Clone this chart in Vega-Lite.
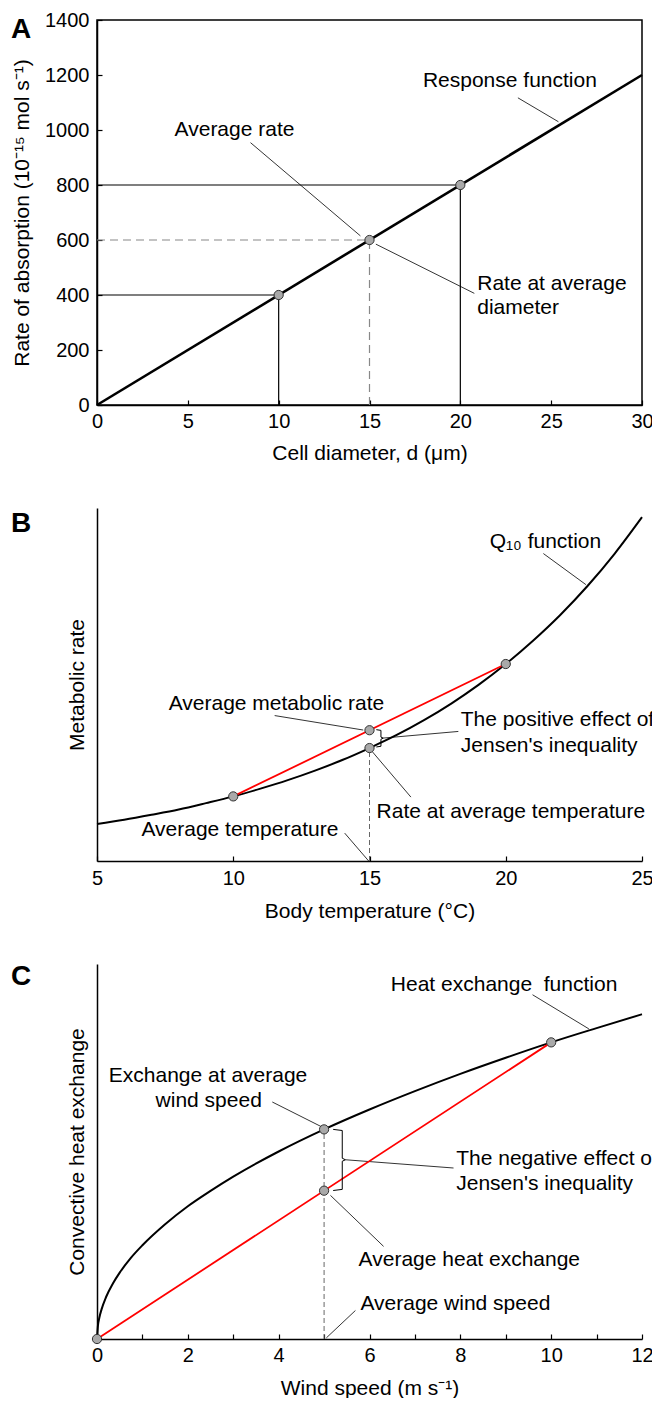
{
  "$schema": "https://vega.github.io/schema/vega-lite/v6.json",
  "background": "white",
  "padding": {"left": 10, "top": 9, "right": 0, "bottom": 0},
  "bounds": "flush",
  "spacing": 103,
  "config": {
    "font": "Liberation Sans",
    "axis": {
      "domainColor": "black", "domainWidth": 1.5,
      "tickColor": "black", "tickWidth": 1.2, "tickSize": -5,
      "labelFont": "Liberation Sans", "labelFontSize": 20, "labelColor": "black",
      "labelFlush": false, "labelOverlap": false,
      "titleFont": "Liberation Sans", "titleFontSize": 21, "titleFontWeight": "normal", "titleColor": "black",
      "grid": false
    },
    "text": {"font": "Liberation Sans", "fontSize": 21, "color": "black"}
  },
  "vconcat": [
    {
      "width": 545, "height": 385,
      "view": {"stroke": "black", "strokeWidth": 1.5},
      "title": {"text": "A", "anchor": "start", "frame": "group", "offset": 0, "dx": -86, "dy": 56, "baseline": "alphabetic", "fontSize": 28, "fontWeight": "bold", "font": "Liberation Sans", "color": "black"},
      "encoding": {
        "x": {"field": "x", "type": "quantitative", "scale": {"domain": [0, 30], "nice": false},
              "axis": {"title": "Cell diameter, d (μm)", "values": [0, 5, 10, 15, 20, 25, 30], "labelPadding": 11, "titlePadding": 11}},
        "y": {"field": "y", "type": "quantitative", "scale": {"domain": [0, 1400], "nice": false},
              "axis": {"title": "Rate of absorption (10⁻¹⁵ mol s⁻¹)", "values": [0, 200, 400, 600, 800, 1000, 1200, 1400], "format": "d", "labelPadding": 13, "titlePadding": 12}}
      },
      "layer": [
        {
          "data": {"values": [
            {"x": 0, "y": 400, "x2": 10, "y2": 400},
            {"x": 10, "y": 0, "x2": 10, "y2": 400},
            {"x": 0, "y": 800, "x2": 20, "y2": 800},
            {"x": 20, "y": 0, "x2": 20, "y2": 800}
          ]},
          "mark": {"type": "rule", "color": "black", "strokeWidth": 1.2},
          "encoding": {"x2": {"field": "x2"}, "y2": {"field": "y2"}}
        },
        {
          "data": {"values": [
            {"x": 0, "y": 600, "x2": 15, "y2": 600},
            {"x": 15, "y": 0, "x2": 15, "y2": 600}
          ]},
          "mark": {"type": "rule", "color": "#888888", "strokeWidth": 1.2, "strokeDash": [8, 5]},
          "encoding": {"x2": {"field": "x2"}, "y2": {"field": "y2"}}
        },
        {
          "data": {"values": [
            {"x": 23.17, "y": 1117, "x2": 25.4, "y2": 1030},
            {"x": 8.45, "y": 954, "x2": 14.5, "y2": 615},
            {"x": 20.77, "y": 406, "x2": 15.35, "y2": 585}
          ]},
          "mark": {"type": "rule", "color": "black", "strokeWidth": 0.8},
          "encoding": {"x2": {"field": "x2"}, "y2": {"field": "y2"}}
        },
        {
          "data": {"values": [{"x": 0, "y": 0}, {"x": 30, "y": 1200}]},
          "mark": {"type": "line", "color": "black", "strokeWidth": 2.6}
        },
        {
          "data": {"values": [{"x": 10, "y": 400}, {"x": 15, "y": 600}, {"x": 20, "y": 800}]},
          "mark": {"type": "circle", "size": 85, "fill": "#a9a9a9", "stroke": "#333333", "strokeWidth": 1, "opacity": 1}
        },
        {
          "data": {"values": [
            {"x": 17.94, "y": 1155, "t": "Response function"},
            {"x": 4.27, "y": 978, "t": "Average rate"},
            {"x": 20.93, "y": 418, "t": "Rate at average"},
            {"x": 20.93, "y": 331, "t": "diameter"}
          ]},
          "mark": {"type": "text", "align": "left", "baseline": "alphabetic"},
          "encoding": {"text": {"field": "t"}}
        }
      ]
    },
    {
      "width": 545, "height": 353,
      "view": {"stroke": null},
      "title": {"text": "B", "anchor": "start", "frame": "group", "offset": 0, "dx": -86, "dy": 52, "baseline": "alphabetic", "fontSize": 28, "fontWeight": "bold", "font": "Liberation Sans", "color": "black"},
      "encoding": {
        "x": {"field": "x", "type": "quantitative", "scale": {"domain": [5, 25], "nice": false, "zero": false},
              "axis": {"title": "Body temperature (°C)", "values": [5, 10, 15, 20, 25], "labelPadding": 12, "titlePadding": 12}},
        "y": {"field": "y", "type": "quantitative", "scale": {"domain": [0, 100], "nice": false},
              "axis": {"title": "Metabolic rate", "ticks": false, "labels": false, "titlePadding": 10}}
      },
      "layer": [
        {
          "data": {"values": [{"x": 15, "y": 0, "x2": 15, "y2": 32.0}]},
          "mark": {"type": "rule", "color": "#666666", "strokeWidth": 1, "strokeDash": [5, 3]},
          "encoding": {"x2": {"field": "x2"}, "y2": {"field": "y2"}}
        },
        {
          "data": {"values": [
            {"x": 21.38, "y": 87.1, "x2": 22.94, "y2": 78.3},
            {"x": 11.52, "y": 41.2, "x2": 14.77, "y2": 37.1},
            {"x": 15.47, "y": 34.8, "x2": 18.26, "y2": 36.7},
            {"x": 16.52, "y": 18.1, "x2": 15.1, "y2": 31.0},
            {"x": 14.09, "y": 7.9, "x2": 14.97, "y2": 0}
          ]},
          "mark": {"type": "rule", "color": "black", "strokeWidth": 0.8},
          "encoding": {"x2": {"field": "x2"}, "y2": {"field": "y2"}}
        },
        {
          "data": {"values": [
            {"x": 5, "y": 10.5}, {"x": 6, "y": 11.7}, {"x": 7, "y": 13.1}, {"x": 8, "y": 14.6},
            {"x": 9, "y": 16.4}, {"x": 10, "y": 18.3}, {"x": 11, "y": 20.5}, {"x": 12, "y": 22.9},
            {"x": 13, "y": 25.6}, {"x": 14, "y": 28.6}, {"x": 15, "y": 32.0}, {"x": 16, "y": 35.7},
            {"x": 17, "y": 39.9}, {"x": 18, "y": 44.6}, {"x": 19, "y": 49.9}, {"x": 20, "y": 55.8},
            {"x": 21, "y": 62.4}, {"x": 22, "y": 69.7}, {"x": 23, "y": 77.9}, {"x": 24, "y": 87.1},
            {"x": 25, "y": 97.4}
          ]},
          "mark": {"type": "line", "color": "black", "strokeWidth": 2, "interpolate": "monotone"}
        },
        {
          "data": {"values": [{"x": 10, "y": 18.3}, {"x": 20, "y": 55.8}]},
          "mark": {"type": "line", "color": "#ff0000", "strokeWidth": 1.8}
        },
        {
          "data": {"values": [
            {"o": 1, "x": 15.25, "y": 37.2}, {"o": 2, "x": 15.42, "y": 37.0}, {"o": 3, "x": 15.42, "y": 35.1},
            {"o": 4, "x": 15.5, "y": 34.8}, {"o": 5, "x": 15.42, "y": 34.5}, {"o": 6, "x": 15.42, "y": 32.5},
            {"o": 7, "x": 15.25, "y": 32.3}
          ]},
          "mark": {"type": "line", "color": "black", "strokeWidth": 1},
          "encoding": {"order": {"field": "o", "type": "quantitative"}}
        },
        {
          "data": {"values": [{"x": 10, "y": 18.3}, {"x": 15, "y": 32.0}, {"x": 15, "y": 37.05}, {"x": 20, "y": 55.8}]},
          "mark": {"type": "circle", "size": 85, "fill": "#a9a9a9", "stroke": "#333333", "strokeWidth": 1, "opacity": 1}
        },
        {
          "data": {"values": [
            {"x": 19.41, "y": 88.8, "t": "Q₁₀ function"},
            {"x": 7.63, "y": 42.9, "t": "Average metabolic rate"},
            {"x": 18.35, "y": 38.2, "t": "The positive effect of"},
            {"x": 18.35, "y": 30.9, "t": "Jensen's inequality"},
            {"x": 15.26, "y": 12.3, "t": "Rate at average temperature"},
            {"x": 6.63, "y": 7.1, "t": "Average temperature"}
          ]},
          "mark": {"type": "text", "align": "left", "baseline": "alphabetic"},
          "encoding": {"text": {"field": "t"}}
        }
      ]
    },
    {
      "width": 545, "height": 375,
      "view": {"stroke": null},
      "title": {"text": "C", "anchor": "start", "frame": "group", "offset": 0, "dx": -86, "dy": 49, "baseline": "alphabetic", "fontSize": 28, "fontWeight": "bold", "font": "Liberation Sans", "color": "black"},
      "encoding": {
        "x": {"field": "x", "type": "quantitative", "scale": {"domain": [0, 12], "nice": false},
              "axis": {"title": "Wind speed (m s⁻¹)", "values": [0, 1, 2, 3, 4, 5, 6, 7, 8, 9, 10, 11, 12],
                       "labelExpr": "datum.value % 2 === 0 ? datum.label : ''", "labelPadding": 11, "titlePadding": 12}},
        "y": {"field": "y", "type": "quantitative", "scale": {"domain": [0, 100], "nice": false},
              "axis": {"title": "Convective heat exchange", "ticks": false, "labels": false, "titlePadding": 10}}
      },
      "layer": [
        {
          "data": {"values": [{"x": 5, "y": 0, "x2": 5, "y2": 55.9}]},
          "mark": {"type": "rule", "color": "#666666", "strokeWidth": 1, "strokeDash": [5, 3]},
          "encoding": {"x2": {"field": "x2"}, "y2": {"field": "y2"}}
        },
        {
          "data": {"values": [
            {"x": 9.59, "y": 91.8, "x2": 10.83, "y2": 82.7},
            {"x": 3.86, "y": 63.2, "x2": 4.96, "y2": 56.5},
            {"x": 5.47, "y": 47.8, "x2": 7.85, "y2": 45.6},
            {"x": 6.31, "y": 24.7, "x2": 5.14, "y2": 38.3},
            {"x": 5.69, "y": 7.6, "x2": 5.05, "y2": 0.3}
          ]},
          "mark": {"type": "rule", "color": "black", "strokeWidth": 0.8},
          "encoding": {"x2": {"field": "x2"}, "y2": {"field": "y2"}}
        },
        {
          "data": {"values": [
            {"x": 0, "y": 0}, {"x": 0.02, "y": 3.5}, {"x": 0.05, "y": 5.6}, {"x": 0.1, "y": 7.9},
            {"x": 0.2, "y": 11.2}, {"x": 0.35, "y": 14.8}, {"x": 0.5, "y": 17.7}, {"x": 0.75, "y": 21.7},
            {"x": 1, "y": 25.0}, {"x": 1.5, "y": 30.6}, {"x": 2, "y": 35.4}, {"x": 2.5, "y": 39.5},
            {"x": 3, "y": 43.3}, {"x": 4, "y": 50.0}, {"x": 5, "y": 55.9}, {"x": 6, "y": 61.2},
            {"x": 7, "y": 66.1}, {"x": 8, "y": 70.7}, {"x": 9, "y": 75.0}, {"x": 10, "y": 79.1},
            {"x": 11, "y": 82.9}, {"x": 12, "y": 86.6}
          ]},
          "mark": {"type": "line", "color": "black", "strokeWidth": 2, "interpolate": "monotone"}
        },
        {
          "data": {"values": [{"x": 0, "y": 0}, {"x": 10, "y": 79.1}]},
          "mark": {"type": "line", "color": "#ff0000", "strokeWidth": 1.8}
        },
        {
          "data": {"values": [
            {"o": 1, "x": 5.2, "y": 55.9}, {"o": 2, "x": 5.4, "y": 55.6}, {"o": 3, "x": 5.4, "y": 48.2},
            {"o": 4, "x": 5.47, "y": 47.8}, {"o": 5, "x": 5.4, "y": 47.4}, {"o": 6, "x": 5.4, "y": 39.9},
            {"o": 7, "x": 5.2, "y": 39.6}
          ]},
          "mark": {"type": "line", "color": "black", "strokeWidth": 1},
          "encoding": {"order": {"field": "o", "type": "quantitative"}}
        },
        {
          "data": {"values": [{"x": 0, "y": 0}, {"x": 5, "y": 55.9}, {"x": 5, "y": 39.55}, {"x": 10, "y": 79.1}]},
          "mark": {"type": "circle", "size": 85, "fill": "#a9a9a9", "stroke": "#333333", "strokeWidth": 1, "opacity": 1, "clip": false}
        },
        {
          "data": {"values": [
            {"x": 6.47, "y": 92.9, "t": "Heat exchange \u00a0function"},
            {"x": 0.26, "y": 68.5, "t": "Exchange at average"},
            {"x": 1.29, "y": 61.8, "t": "wind speed"},
            {"x": 7.91, "y": 46.3, "t": "The negative effect of"},
            {"x": 7.91, "y": 39.7, "t": "Jensen's inequality"},
            {"x": 5.76, "y": 19.6, "t": "Average heat exchange"},
            {"x": 5.8, "y": 7.8, "t": "Average wind speed"}
          ]},
          "mark": {"type": "text", "align": "left", "baseline": "alphabetic"},
          "encoding": {"text": {"field": "t"}}
        }
      ]
    }
  ]
}
